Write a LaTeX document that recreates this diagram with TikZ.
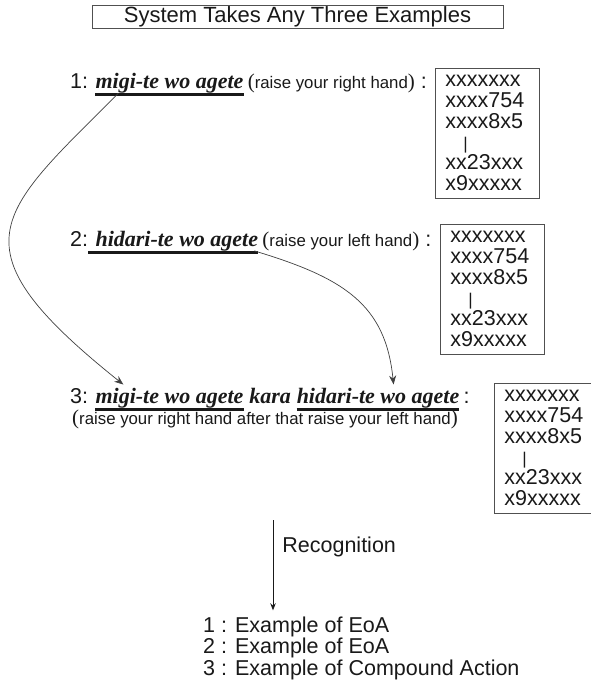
\documentclass[tikz,border=0pt]{standalone}
\usepackage{fontspec}
\setmainfont{Liberation Serif}
\setsansfont{Liberation Sans}
\usepackage{tikz}
\usetikzlibrary{arrows.meta, positioning}
\definecolor{ink}{RGB}{25,25,25}
\definecolor{edge}{RGB}{80,80,80}
\newcommand{\glosstext}[1]{{\fontsize{16.8}{18}\selectfont #1}}
\newcommand{\parenfont}{\rmfamily\fontsize{21}{22}\selectfont}
\newcommand{\codecolumn}{xxxxxxx\\xxxx754\\xxxx8x5\\\makebox[18pt]{}{\fontsize{17}{18}\selectfont|}\\xx23xxx\\x9xxxxx}
\tikzset{
    titlebox/.style={draw=edge, line width=0.8pt, minimum width=411pt, minimum height=23pt,
                     inner sep=0pt, text=ink, font=\sffamily\fontsize{22}{24}\selectfont},
    numlbl/.style={inner sep=0pt, text=ink, font=\sffamily\fontsize{21.5}{24}\selectfont},
    jp/.style={inner sep=0pt, text=ink, font=\rmfamily\bfseries\itshape\fontsize{22}{24}\selectfont},
    gloss/.style={inner sep=0pt, text=ink, font=\sffamily\fontsize{21.5}{24}\selectfont},
    codebox/.style={draw=edge, line width=0.8pt, align=left, text width=84pt, inner xsep=10pt,
                    inner ysep=7pt, text=ink, font=\sffamily\fontsize{21.5}{20.8}\selectfont},
    uline/.style={line width=3pt, ink},
    link/.style={-{Stealth[length=9pt, width=7pt]}, line width=0.7pt, black!75},
    arrow/.style={-{Stealth[length=7pt, width=5.5pt]}, line width=0.8pt, ink},
    lbl/.style={inner sep=0pt, text=ink, font=\sffamily\fontsize{21.5}{24}\selectfont},
    result/.style={align=left, inner xsep=0pt, inner ysep=6pt, text=ink,
                   font=\sffamily\fontsize{21.5}{21.5}\selectfont},
}

\begin{document}
\begin{tikzpicture}[x=1pt, y=-1pt]
    \useasboundingbox (0,0) rectangle (590,682);
    \node[titlebox] (title) at (297.5,16.5) {System Takes Any Three Examples};

    % example 1
    \node[numlbl, anchor=base west] (n1) at (70,88.5) {1:};
    \node[jp, base right=7pt of n1] (jp1) {migi-te wo agete};
    \node[gloss, base right=4pt of jp1] (gl1) {{\parenfont(}\glosstext{raise your right hand}{\parenfont)} :};
    \draw[uline] ([yshift=-6.5pt]jp1.base west) -- ([yshift=-6.5pt]jp1.base east);
    \node[codebox, anchor=north west] (code1) at (435,68) {\codecolumn};

    % example 2
    \node[numlbl, anchor=base west] (n2) at (70,246) {2:};
    \node[jp, base right=7pt of n2] (jp2) {hidari-te wo agete};
    \node[gloss, base right=4pt of jp2] (gl2) {{\parenfont(}\glosstext{raise your left hand}{\parenfont)} :};
    \draw[uline] ([yshift=-6.5pt]n2.base east) -- ([yshift=-6.5pt]jp2.base east);
    \node[codebox, anchor=north west] (code2) at (440,224) {\codecolumn};

    % example 3
    \node[numlbl, anchor=base west] (n3) at (70,403) {3:};
    \node[jp, base right=7pt of n3] (jp3a) {migi-te wo agete};
    \node[jp, base right=5.5pt of jp3a] (kara) {kara};
    \node[jp, base right=5.5pt of kara] (jp3b) {hidari-te wo agete};
    \node[numlbl, base right=4pt of jp3b] (c3) {:};
    \draw[uline] ([yshift=-6.5pt]jp3a.base west) -- ([yshift=-6.5pt]jp3a.base east);
    \draw[uline] ([yshift=-6.5pt]jp3b.base west) -- ([yshift=-6.5pt]jp3b.base east);
    \node[gloss, anchor=base west] (gl3) at ([xshift=2pt, yshift=-21pt]n3.base west)
        {{\parenfont(}\glosstext{raise your right hand after that raise your left hand}{\parenfont)}};
    \node[codebox, anchor=north west] (code3) at (494,383) {\codecolumn};

    % composition links
    \draw[link] ([xshift=23pt]jp1.south west) .. controls +(-121,121) and +(-174,-139) .. ([xshift=28pt, yshift=3pt]jp3a.north west);
    \draw[link] ([xshift=-4pt]jp2.south east) .. controls +(90,27) and +(-8,-80) .. ([xshift=97pt, yshift=3pt]jp3b.north west);

    % recognition
    \coordinate (rectop) at (273,520);
    \node[result, anchor=north west] (res) at (203,610.3) {1 : Example of EoA\\2 : Example of EoA\\3 : Example of Compound Action};
    \draw[arrow] (rectop) -- node[lbl, right=9pt, pos=0.3] {Recognition} (rectop |- res.north);
\end{tikzpicture}
\end{document}
